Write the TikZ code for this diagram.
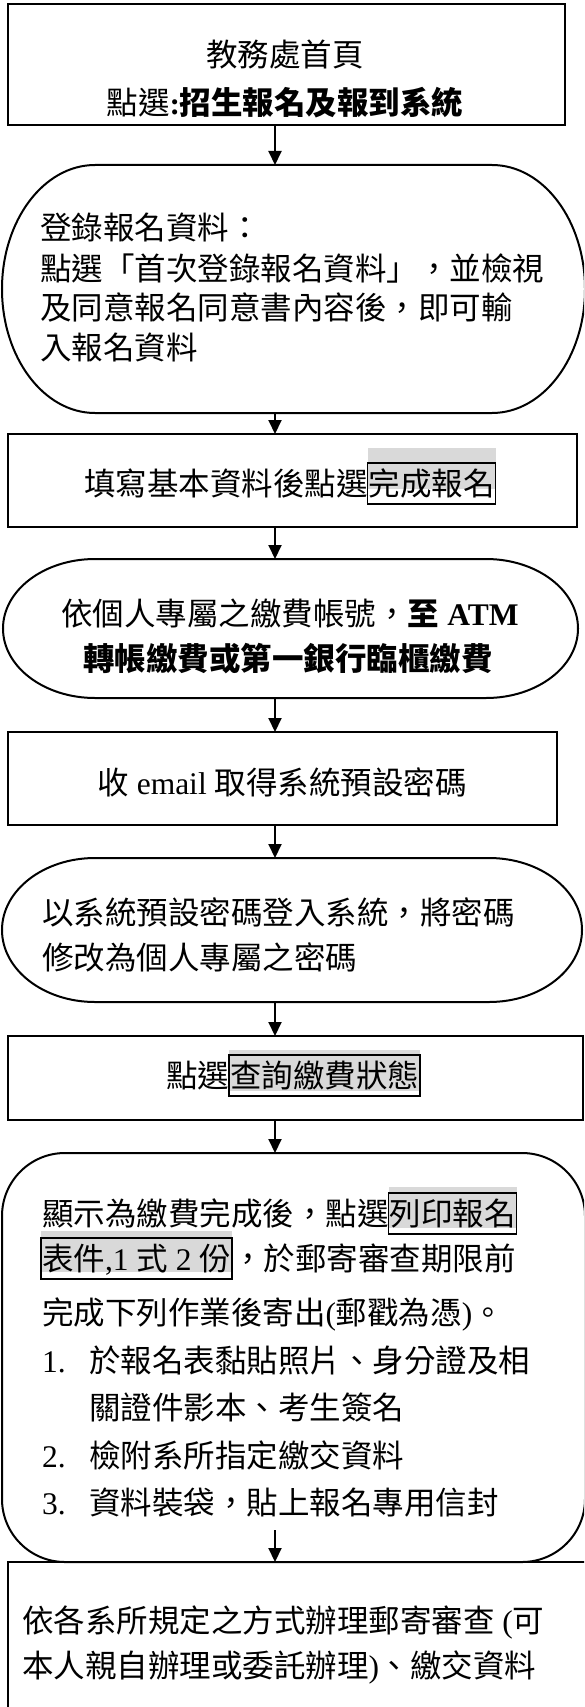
\documentclass[tikz,border=0pt]{standalone}
\usepackage{fontspec}
\setmainfont{Liberation Serif}
\newfontfamily\cjk{Noto Sans CJK TC}
\newfontfamily\tms{Liberation Serif}
\usetikzlibrary{arrows.meta}
\pgfdeclarelayer{bg}
\pgfsetlayers{bg,main}
\definecolor{hlgray}{RGB}{217,217,217}
\newcommand\lat[1]{{\tms{}#1}}
% terminator outline: node name, x radius, half height
\newcommand\termpath[3]{%
  \draw[ln] ([xshift=#2pt]#1.north west) -- ([xshift=-#2pt]#1.north east)
    arc[start angle=90,end angle=-90,x radius=#2,y radius=#3]
    -- ([xshift=#2pt]#1.south west)
    arc[start angle=270,end angle=90,x radius=#2,y radius=#3] -- cycle;}
\newcommand\hlfill[2]{%
  \begin{pgfonlayer}{bg}
    \fill[hlgray] ([yshift=#2pt]#1.north west) rectangle ([yshift=#2pt]#1.south east);
  \end{pgfonlayer}}
\begin{document}
\begin{tikzpicture}[x=1pt,y=1pt,
  ln/.style={line width=2pt},
  box/.style={draw,line width=2pt,inner sep=0pt,outer sep=0pt},
  ghost/.style={inner sep=0pt,outer sep=0pt},
  txt/.style={inner sep=0pt,outer sep=0pt,font=\cjk\fontsize{31.5pt}{40pt}\selectfont},
  hl/.style={txt,draw,line width=1.8pt,inner xsep=1pt,inner ysep=2pt,text height=30pt,text depth=7pt},
  arr/.style={ln,-{Triangle[length=14pt,width=13pt]}}]
\useasboundingbox (0,0) rectangle (584,-1707);
\clip (0,0) rectangle (584,-1707);

% ---- boxes ----
\node[box,minimum width=557pt,minimum height=121pt] (b1) at (286.5,-64.5) {};
\node[ghost,minimum width=583pt,minimum height=248pt] (b2) at (293.5,-289) {};
\termpath{b2}{93}{124}
\node[box,minimum width=569pt,minimum height=93pt] (b3) at (292.5,-480.5) {};
\node[ghost,minimum width=575pt,minimum height=139pt] (b4) at (290.5,-628.5) {};
\termpath{b4}{92}{69.5}
\node[box,minimum width=549pt,minimum height=93pt] (b5) at (282.5,-778.5) {};
\node[ghost,minimum width=580pt,minimum height=144pt] (b6) at (292,-930) {};
\termpath{b6}{93}{72}
\node[box,minimum width=575pt,minimum height=84pt] (b7) at (295.5,-1078) {};
\node[box,rounded corners=63pt,minimum width=583pt,minimum height=409pt] (b8) at (293.5,-1357.5) {};
\node[box,minimum width=592pt,minimum height=158pt] (b9) at (304,-1641) {};

% ---- arrows ----
\coordinate (ax) at (275,0);
\coordinate (a8s) at (275,-1530);
\draw[arr] (b1.south -| ax) -- (b2.north -| ax);
\draw[arr] (b2.south -| ax) -- (b3.north -| ax);
\draw[arr] (b3.south -| ax) -- (b4.north -| ax);
\draw[arr] (b4.south -| ax) -- (b5.north -| ax);
\draw[arr] (b5.south -| ax) -- (b6.north -| ax);
\draw[arr] (b6.south -| ax) -- (b7.north -| ax);
\draw[arr] (b7.south -| ax) -- (b8.north -| ax);
\draw[arr] (a8s) -- (b9.north -| ax);

% ---- texts ----
% box 1
\node[txt,anchor=base] (t1a) at (285,-67) {教務處首頁};
\node[txt,anchor=base] (t1b) at (285,-115) {點選{\bfseries\lat{:}招生報名及報到系統}};
% box 2
\node[txt,anchor=base west] (t2a) at (40,-239) {登錄報名資料：};
\node[txt,anchor=base west] (t2b) at (40,-280) {點選「首次登錄報名資料」，並檢視};
\node[txt,anchor=base west] (t2c) at (40,-319) {及同意報名同意書內容後，即可輸};
\node[txt,anchor=base west] (t2d) at (40,-359) {入報名資料};
% box 3
\node[txt,anchor=base west] (t3a) at (84,-495) {填寫基本資料後點選};
\node[hl,anchor=base west] (t3b) at (t3a.base east) {完成報名};
\hlfill{t3b}{15}
% box 4
\node[txt,anchor=base] (t4a) at (290,-625) {依個人專屬之繳費帳號，{\bfseries 至\lat{ ATM}}};
\node[txt,anchor=base] (t4b) at (288,-670) {\bfseries 轉帳繳費或第一銀行臨櫃繳費};
% box 5
\node[txt,anchor=base] (t5) at (282,-794) {收\lat{ email }取得系統預設密碼};
% box 6
\node[txt,anchor=base west] (t6a) at (42,-924) {以系統預設密碼登入系統，將密碼};
\node[txt,anchor=base west] (t6b) at (42,-969) {修改為個人專屬之密碼};
% box 7
\node[txt,anchor=base west] (t7a) at (166,-1087) {點選};
\node[hl,anchor=base west] (t7b) at (t7a.base east) {查詢繳費狀態};
\hlfill{t7b}{5}
% box 8
\node[txt,anchor=base west] (t8a) at (42,-1225) {顯示為繳費完成後，點選};
\node[hl,anchor=base west] (t8b) at (t8a.base east) {列印報名};
\hlfill{t8b}{6}
\node[hl,anchor=base west] (t8c) at (41,-1270) {表件\lat{,1 }式\lat{ 2 }份};
\hlfill{t8c}{7}
\node[txt,anchor=base west] (t8d) at (t8c.base east) {，於郵寄審查期限前};
\node[txt,anchor=base west] (t8e) at (42,-1324) {完成下列作業後寄出\lat{(}郵戳為憑\lat{)}。};
\node[txt,anchor=base west] (n1) at (42,-1372) {\lat{1.}};
\node[txt,anchor=base west] (t8f) at (89,-1372) {於報名表黏貼照片、身分證及相};
\node[txt,anchor=base west] (t8g) at (89,-1419) {關證件影本、考生簽名};
\node[txt,anchor=base west] (n2) at (42,-1467) {\lat{2.}};
\node[txt,anchor=base west] (t8h) at (89,-1467) {檢附系所指定繳交資料};
\node[txt,anchor=base west] (n3) at (42,-1514) {\lat{3.}};
\node[txt,anchor=base west] (t8i) at (89,-1514) {資料裝袋，貼上報名專用信封};
% box 9
\node[txt,anchor=base west] (t9a) at (22,-1632) {依各系所規定之方式辦理郵寄審查\lat{ (}可};
\node[txt,anchor=base west] (t9b) at (22,-1677) {本人親自辦理或委託辦理\lat{)}、繳交資料};
\end{tikzpicture}
\end{document}
